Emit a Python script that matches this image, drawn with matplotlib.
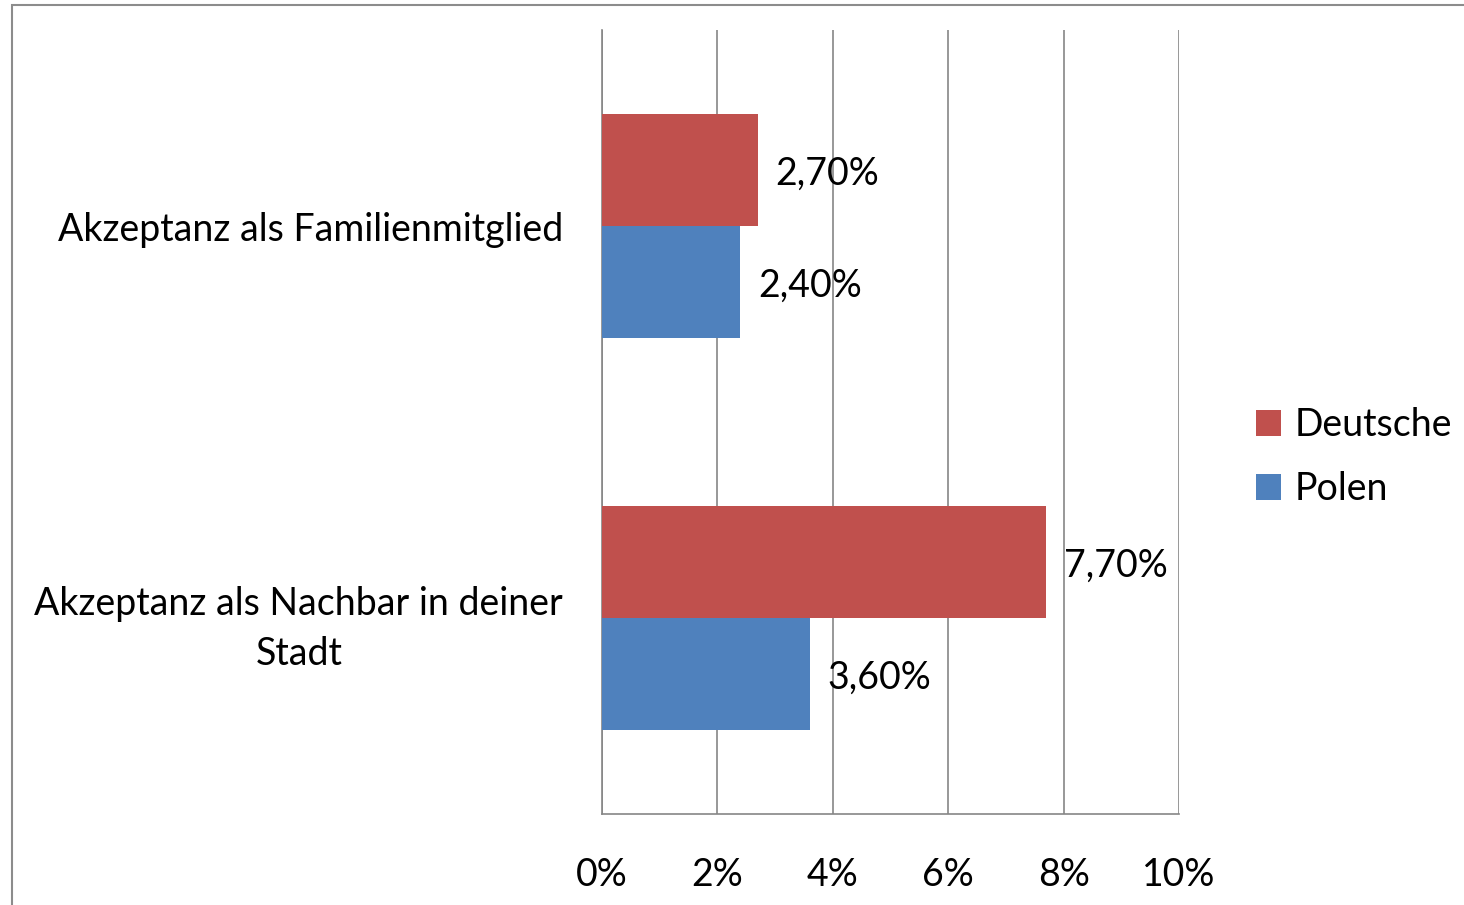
import matplotlib.pyplot as plt
from matplotlib.patches import Rectangle
import numpy as np

categories = ['Akzeptanz als Familienmitglied', 'Akzeptanz als Nachbar in deiner\nStadt']
deutsche = [2.7, 7.7]
polen = [2.4, 3.6]
series_names = ['Deutsche', 'Polen']
xticks = [0, 2, 4, 6, 8, 10]

red = '#C0504D'
blue = '#4F81BD'
grid_col = '#868686'

plt.rcParams['font.family'] = ['Lato', 'DejaVu Sans']
fs = 27

fig = plt.figure(figsize=(14.64, 9.05), dpi=100)
fig.patches.append(Rectangle((12 / 1464, -0.1), 1.2, (905 - 5) / 905 + 0.1,
                             transform=fig.transFigure, fill=False,
                             edgecolor='#8c8c8c', linewidth=1.5))

ax = fig.add_axes([602 / 1464, 1 - 814 / 905, (1179 - 602) / 1464, (814 - 30) / 905])

pos = np.array([1, 0])  # first category at the top
h = 112 / 392
ax.barh(pos + h / 2, deutsche, height=h, color=red, label=series_names[0], zorder=3)
ax.barh(pos - h / 2, polen, height=h, color=blue, label=series_names[1], zorder=3)

for p, v in zip(pos, deutsche):
    ax.text(v + 0.3, p + h / 2 - 0.01, f'{v:.2f}'.replace('.', ',') + '%', va='center', ha='left',
            fontsize=fs, zorder=4)
for p, v in zip(pos, polen):
    ax.text(v + 0.3, p - h / 2 - 0.01, f'{v:.2f}'.replace('.', ',') + '%', va='center', ha='left',
            fontsize=fs, zorder=4)

ax.set_xlim(0, 10)
ax.set_ylim(-0.5, 1.5)
ax.set_xticks(xticks)
ax.set_xticklabels([f'{t}%' for t in xticks], fontsize=fs)
ax.set_yticks(pos)
ax.set_yticklabels(categories, fontsize=fs, multialignment='center', linespacing=1.5)
ax.tick_params(axis='x', length=0, pad=31)
ax.tick_params(axis='y', length=0, pad=28)
ax.grid(axis='x', color=grid_col, linewidth=1.2, zorder=0)
for s in ['top', 'right']:
    ax.spines[s].set_visible(False)
for s in ['left', 'bottom']:
    ax.spines[s].set_color(grid_col)
    ax.spines[s].set_linewidth(1.2)

leg = ax.legend(loc='center left', bbox_to_anchor=(1256 / 1464, 1 - 457 / 905), bbox_transform=fig.transFigure,
                frameon=False, fontsize=fs, handlelength=0.67, handleheight=0.67,
                handletextpad=0.35, labelspacing=0.75, borderpad=0, borderaxespad=0)

fig.savefig('out.png', dpi=100)
